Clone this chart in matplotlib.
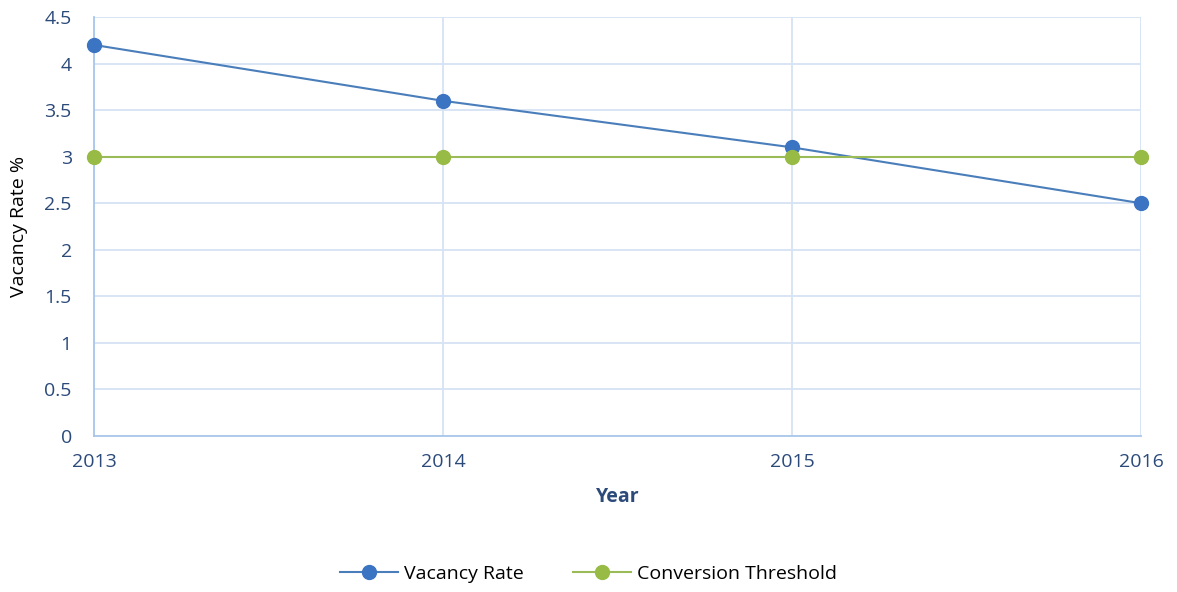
import matplotlib
matplotlib.use("Agg")
import matplotlib.pyplot as plt

years = [2013, 2014, 2015, 2016]
vacancy_rate = [4.2, 3.6, 3.1, 2.5]
conversion_threshold = [3, 3, 3, 3]
y_ticks = [0, 0.5, 1, 1.5, 2, 2.5, 3, 3.5, 4, 4.5]
y_tick_labels = ["0", "0.5", "1", "1.5", "2", "2.5", "3", "3.5", "4", "4.5"]

plt.rcParams['font.family'] = ['Open Sans', 'DejaVu Sans']

fig = plt.figure(figsize=(11.77, 5.92), dpi=100)
ax = fig.add_axes([94/1177, 1-436/592, (1141-94)/1177, (436-17)/592])

blue = '#4a7ebb'
green = '#9bbb59'
tick_color = '#2b4a7a'

ax.plot(years, vacancy_rate, color=blue, lw=1.5, marker='o', ms=10,
        mfc='#3b74c2', mec='#3b74c2', label='Vacancy Rate', zorder=3, clip_on=False)
ax.plot(years, conversion_threshold, color=green, lw=1.5, marker='o', ms=10,
        mfc='#97bb45', mec='#97bb45', label='Conversion Threshold', zorder=3, clip_on=False)

ax.set_xlim(2013, 2016)
ax.set_ylim(0, 4.5)
ax.set_xticks(years)
ax.set_xticklabels([str(y) for y in years])
ax.set_yticks(y_ticks)
ax.set_yticklabels(y_tick_labels)
ax.grid(True, color='#d6e3f3', lw=1.3)
ax.set_axisbelow(True)
for s in ['top', 'right']:
    ax.spines[s].set_visible(False)
for s in ['left', 'bottom']:
    ax.spines[s].set_color('#a9c6ec')
    ax.spines[s].set_linewidth(1.3)
ax.tick_params(length=0, labelsize=14, colors=tick_color, pad=16)
ax.tick_params(axis='x', pad=12)

ax.set_ylabel('Vacancy Rate %', fontsize=14, color='black', labelpad=12)
ax.set_xlabel('Year', fontsize=14, fontweight='bold', color=tick_color, labelpad=12)

leg = fig.legend(loc='center', bbox_to_anchor=(0.5, 1-574/592), ncol=2, frameon=False,
                 fontsize=14, handlelength=3, columnspacing=2.5, handletextpad=0.3)

fig.savefig('out.png', dpi=100)
